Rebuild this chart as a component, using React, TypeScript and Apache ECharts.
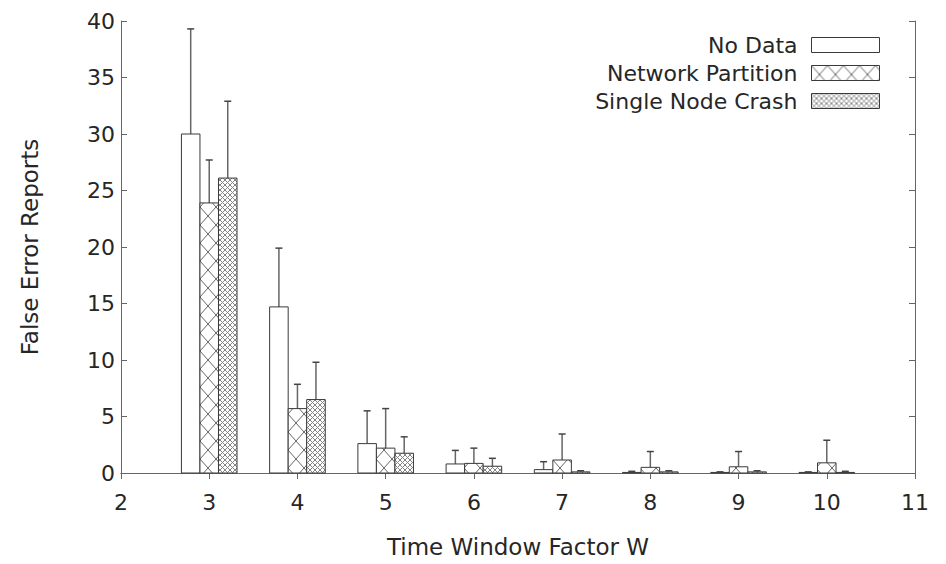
import React, { useEffect, useRef } from "react";
import * as echarts from "echarts";

const windows = [3, 4, 5, 6, 7, 8, 9, 10];
const noData = [30.0, 14.7, 2.6, 0.8, 0.3, 0.05, 0.05, 0.05];
const noDataErr = [9.3, 5.2, 2.9, 1.2, 0.7, 0.1, 0.05, 0.05];
const networkPartition = [23.9, 5.7, 2.2, 0.85, 1.15, 0.5, 0.55, 0.9];
const networkPartitionErr = [3.8, 2.15, 3.5, 1.35, 2.3, 1.4, 1.35, 2.0];
const singleNodeCrash = [26.1, 6.5, 1.75, 0.6, 0.1, 0.1, 0.1, 0.05];
const singleNodeCrashErr = [6.8, 3.3, 1.45, 0.7, 0.1, 0.1, 0.1, 0.1];
const seriesNames = ["No Data", "Network Partition", "Single Node Crash"];
const yTicks = { min: 0, max: 40, interval: 5 };
const xTicks = { min: 2, max: 11, interval: 1 };

const FONT = "DejaVu Sans";
const TEXT = "#262626";
const LINE = "#3a3a3a";

function makePattern(kind: "none" | "coarse" | "fine"): any {
  if (kind === "none") return "#ffffff";
  const c = document.createElement("canvas");
  const w = kind === "coarse" ? 16 : 5;
  const h = kind === "coarse" ? 18 : 5;
  c.width = w;
  c.height = h;
  const ctx = c.getContext("2d")!;
  ctx.fillStyle = "#ffffff";
  ctx.fillRect(0, 0, w, h);
  ctx.strokeStyle = kind === "coarse" ? "#666" : "#858585";
  ctx.lineWidth = 1;
  ctx.beginPath();
  ctx.moveTo(0, 0);
  ctx.lineTo(w, h);
  ctx.moveTo(w, 0);
  ctx.lineTo(0, h);
  ctx.stroke();
  return { image: c, repeat: "repeat" };
}

export default function App() {
  const ref = useRef<HTMLDivElement>(null);
  useEffect(() => {
    document.body.style.margin = "0";
    if (!ref.current) return;
    const chart = echarts.init(ref.current, undefined, { renderer: "svg" });
    const fills = [makePattern("none"), makePattern("coarse"), makePattern("fine")];
    const values = [noData, networkPartition, singleNodeCrash];
    const errs = [noDataErr, networkPartitionErr, singleNodeCrashErr];
    const BW = 0.21;
    const offsets = [-BW, 0, BW];

    const series = seriesNames.map((name, si) => ({
      name,
      type: "custom",
      xAxisIndex: 0,
      yAxisIndex: 0,
      itemStyle: { color: fills[si], borderColor: LINE, borderWidth: 1 },
      encode: { x: 0, y: 1 },
      data: windows.map((w, i) => [w, values[si][i], errs[si][i]]),
      renderItem: (params: any, api: any) => {
        const x = api.value(0) + offsets[si];
        const y = api.value(1);
        const e = api.value(2);
        const p0 = api.coord([x - BW / 2, 0]);
        const p1 = api.coord([x + BW / 2, y]);
        const c = api.coord([x, y]);
        const t = api.coord([x, y + e]);
        return {
          type: "group",
          children: [
            {
              type: "line",
              shape: { x1: c[0], y1: c[1], x2: t[0], y2: t[1] },
              style: { stroke: "#666", lineWidth: 1.5 },
            },
            {
              type: "line",
              shape: { x1: t[0] - 3.5, y1: t[1], x2: t[0] + 3.5, y2: t[1] },
              style: { stroke: "#444", lineWidth: 1.5 },
            },
            {
              type: "rect",
              shape: {
                x: p0[0],
                y: p1[1],
                width: p1[0] - p0[0],
                height: p0[1] - p1[1],
              },
              style: { fill: fills[si], stroke: LINE, lineWidth: 1 },
            },
          ],
        };
      },
    }));

    const axisCommon = {
      axisLine: { show: true, lineStyle: { color: "#666", width: 1 } },
      axisTick: { show: true, inside: true, length: 6, lineStyle: { color: "#666" } },
      splitLine: { show: false },
    };

    chart.setOption({
      animation: false,
      backgroundColor: "#ffffff",
      textStyle: { fontFamily: FONT },
      grid: { left: 121, right: 31, top: 21, bottom: 91, containLabel: false },
      legend: {
        orient: "vertical",
        right: 61,
        top: 29,
        align: "right",
        itemWidth: 68,
        itemHeight: 15,
        itemGap: 6,
        icon: "rect",
        textStyle: { fontFamily: FONT, fontSize: 22, color: TEXT, padding: [0, 9, 0, 0] },
        data: seriesNames.map((n, i) => ({
          name: n,
          itemStyle: { color: fills[i], borderColor: LINE, borderWidth: 1 },
        })),
      },
      xAxis: [
        {
          type: "value",
          ...xTicks,
          position: "bottom",
          name: "Time Window Factor W",
          nameLocation: "middle",
          nameGap: 62,
          nameTextStyle: { fontFamily: FONT, fontSize: 23, color: TEXT },
          axisLabel: { fontFamily: FONT, fontSize: 22, color: TEXT, margin: 18 },
          ...axisCommon,
        },
        {
          type: "value",
          ...xTicks,
          position: "top",
          axisLabel: { show: false },
          ...axisCommon,
        },
      ],
      yAxis: [
        {
          type: "value",
          ...yTicks,
          position: "left",
          name: "False Error Reports",
          nameLocation: "middle",
          nameGap: 80,
          nameTextStyle: { fontFamily: FONT, fontSize: 23, color: TEXT },
          axisLabel: { fontFamily: FONT, fontSize: 22, color: TEXT, margin: 6 },
          ...axisCommon,
        },
        {
          type: "value",
          ...yTicks,
          position: "right",
          axisLabel: { show: false },
          ...axisCommon,
        },
      ],
      series,
    });
    return () => chart.dispose();
  }, []);
  return <div ref={ref} style={{ width: 946, height: 564 }} />;
}
